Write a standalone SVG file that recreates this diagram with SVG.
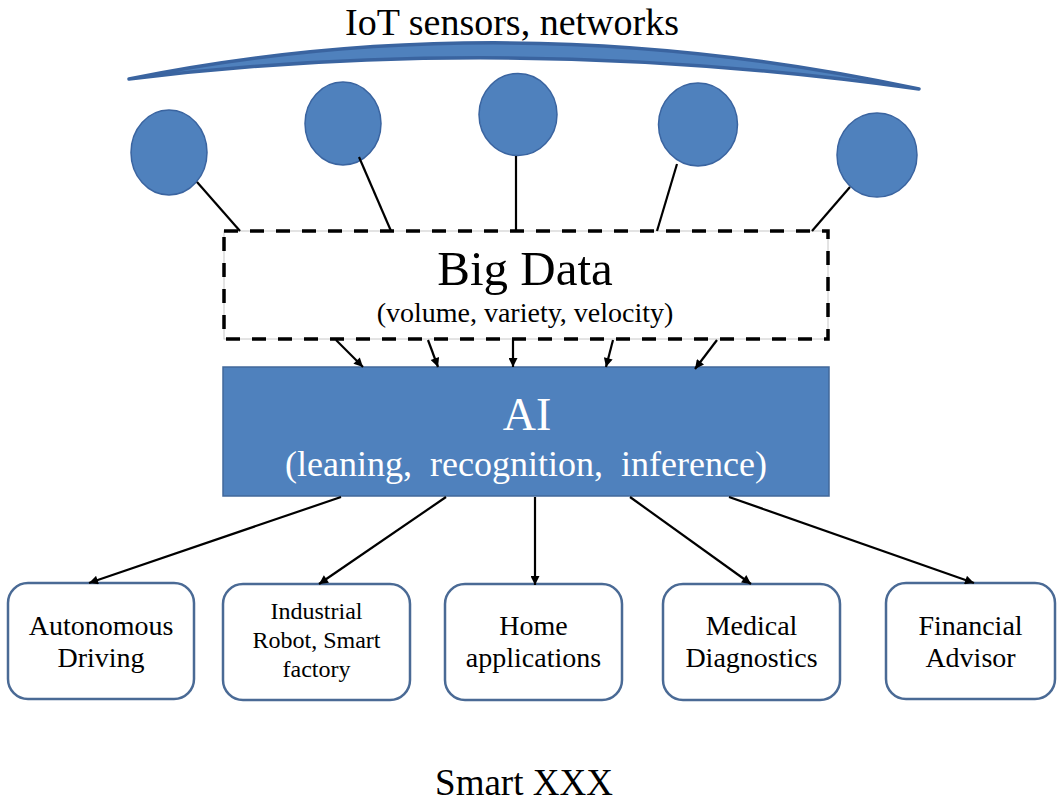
<svg xmlns="http://www.w3.org/2000/svg" width="1059" height="802" viewBox="0 0 1059 802">
  <style>
    text { font-family: "Liberation Serif", "Times New Roman", serif; text-anchor: middle; fill: #000; }
    .sensor { fill: #4f81bd; stroke: #3a64a0; stroke-width: 1.5; }
    .wire { stroke: #000; stroke-width: 2.2; fill: none; }
    .flow { stroke: #000; stroke-width: 2.2; fill: none; marker-end: url(#arr); }
    .app rect { fill: #fff; stroke: #4a6a95; stroke-width: 2.5; }
    .app text { font-size: 28px; }
    .white { fill: #fff; }
  </style>
  <defs>
    <marker id="arr" viewBox="0 0 10 10" refX="10" refY="5" markerWidth="11" markerHeight="9" orient="auto" markerUnits="userSpaceOnUse">
      <path d="M0,0 L10,5 L0,10 z" fill="#000"/>
    </marker>
  </defs>

  <rect width="1059" height="802" fill="#fff"/>

  <!-- network band with its caption -->
  <g id="network">
    <text x="512" y="35" font-size="38">IoT sensors, networks</text>
    <path d="M129,79 Q512,2 919,89 Q512,32 129,79 Z" fill="#4f81bd" stroke="#3a64a0" stroke-width="3.5" stroke-linejoin="round"/>
  </g>

  <!-- sensors -->
  <g id="sensor1"><ellipse class="sensor" cx="169" cy="152.5" rx="38" ry="42.5"/></g>
  <g id="sensor2"><ellipse class="sensor" cx="343" cy="123.5" rx="38" ry="41.5"/></g>
  <g id="sensor3"><ellipse class="sensor" cx="518" cy="114.5" rx="39" ry="41"/></g>
  <g id="sensor4"><ellipse class="sensor" cx="698" cy="124.5" rx="39.5" ry="41.5"/></g>
  <g id="sensor5"><ellipse class="sensor" cx="877" cy="155" rx="40" ry="42"/></g>

  <!-- big data store -->
  <g id="bigdata">
    <rect x="224" y="231" width="604" height="108" fill="#fff" stroke="#c8c8c8" stroke-width="1"/>
    <rect x="224" y="231" width="604" height="108" fill="none" stroke="#000" stroke-width="3.5" stroke-dasharray="14 12"/>
    <text x="525" y="285" font-size="49">Big Data</text>
    <text x="525" y="322" font-size="28">(volume, variety, velocity)</text>
  </g>

  <!-- AI engine -->
  <g id="ai">
    <rect x="223" y="367" width="606" height="129" fill="#4f81bd" stroke="#41689b" stroke-width="1.5"/>
    <text class="white" x="527" y="430" font-size="46">AI</text>
    <text class="white" x="526" y="476" font-size="36" word-spacing="9">(leaning, recognition, inference)</text>
  </g>

  <!-- applications -->
  <g id="app1" class="app">
    <rect x="8" y="583" width="186" height="116" rx="20" ry="20"/>
    <text x="101" y="635">Autonomous</text>
    <text x="101" y="667">Driving</text>
  </g>
  <g id="app2" class="app">
    <rect x="223" y="584" width="187" height="116" rx="20" ry="20"/>
    <text x="316.5" y="619" style="font-size:24px">Industrial</text>
    <text x="316.5" y="648" style="font-size:24px">Robot, Smart</text>
    <text x="316.5" y="677" style="font-size:24px">factory</text>
  </g>
  <g id="app3" class="app">
    <rect x="445" y="584" width="177" height="116" rx="20" ry="20"/>
    <text x="533.5" y="635">Home</text>
    <text x="533.5" y="667">applications</text>
  </g>
  <g id="app4" class="app">
    <rect x="663" y="584" width="177" height="116" rx="20" ry="20"/>
    <text x="751.5" y="635">Medical</text>
    <text x="751.5" y="667">Diagnostics</text>
  </g>
  <g id="app5" class="app">
    <rect x="886" y="583" width="169" height="116" rx="20" ry="20"/>
    <text x="970.5" y="635">Financial</text>
    <text x="970.5" y="667">Advisor</text>
  </g>

  <!-- caption -->
  <g id="caption">
    <text x="524" y="795" font-size="37">Smart XXX</text>
  </g>

  <!-- connectors -->
  <g id="connectors">
    <line class="wire" x1="197" y1="182" x2="240" y2="231"/>
    <line class="wire" x1="359" y1="157" x2="391" y2="231"/>
    <line class="wire" x1="516" y1="156" x2="516" y2="231"/>
    <line class="wire" x1="677" y1="164" x2="657" y2="231"/>
    <line class="wire" x1="850" y1="187" x2="812" y2="231"/>

    <line class="flow" x1="336" y1="340" x2="363" y2="367"/>
    <line class="flow" x1="428" y1="340" x2="438" y2="367"/>
    <line class="flow" x1="513" y1="340" x2="513" y2="367"/>
    <line class="flow" x1="613" y1="340" x2="606" y2="367"/>
    <line class="flow" x1="717" y1="340" x2="695" y2="369"/>

    <line class="flow" x1="341" y1="497" x2="89" y2="583"/>
    <line class="flow" x1="446" y1="497" x2="319" y2="584"/>
    <line class="flow" x1="535" y1="497" x2="535" y2="585"/>
    <line class="flow" x1="630" y1="497" x2="751" y2="584"/>
    <line class="flow" x1="729" y1="497" x2="974" y2="583"/>
  </g>
</svg>
